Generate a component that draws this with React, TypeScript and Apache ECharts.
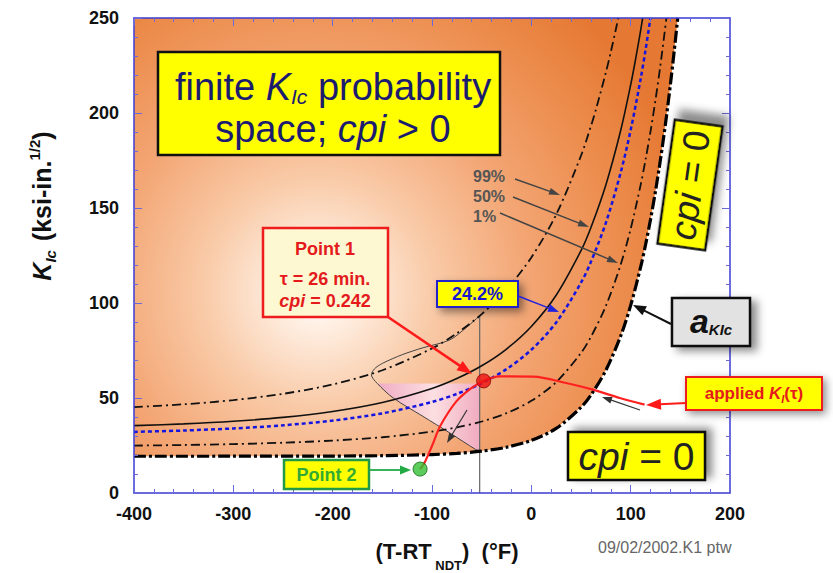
import React, { useEffect, useRef } from 'react';
import * as echarts from 'echarts';

// ---- axis settings ----
const xMin = -400;
const xMax = 200;
const xStep = 100;
const yMin = 0;
const yMax = 250;
const yStep = 50;

// ---- curves: [T-RTndt (F), K (ksi-in^1/2)] ----
const aKIcCurve = [[-400, 19.35], [-300, 19.36], [-200, 19.44], [-150, 19.63], [-100, 20.23], [-75, 20.89], [-50, 22.05], [-25, 24.09], [0, 27.69], [25, 33.99], [50, 45.08], [60, 51.58], [75, 64.55], [90, 82.73], [100, 98.75], [110, 118.82], [115, 130.69], [120, 143.97], [125, 158.84], [130, 175.48], [135, 194.11], [140, 214.94], [144, 233.39], [147.4, 250]];
const p1Curve = [[-400, 24.94], [-350, 25.26], [-300, 25.74], [-250, 26.47], [-200, 27.59], [-150, 29.35], [-100, 32.3], [-75, 34.54], [-50, 37.63], [-25, 42.03], [0, 48.5], [25, 58.32], [50, 73.7], [60, 82.17], [75, 98.41], [90, 120.28], [100, 139.02], [110, 162.03], [115, 175.46], [120, 190.36], [125, 206.93], [130, 225.33], [136, 250]];
const p50Curve = [[-400, 35.46], [-350, 36.38], [-300, 37.75], [-250, 39.81], [-200, 42.92], [-150, 47.65], [-100, 55.02], [-75, 60.23], [-50, 66.95], [-25, 75.78], [0, 87.67], [25, 104.1], [50, 127.56], [60, 139.75], [75, 162.14], [90, 190.94], [100, 214.79], [105, 228.43], [110, 243.33], [112.1, 250]];
const p99Curve = [[-400, 45.21], [-350, 46.69], [-300, 48.89], [-250, 52.19], [-200, 57.14], [-150, 64.62], [-100, 76.09], [-75, 84.05], [-50, 94.14], [-25, 107.08], [0, 123.99], [25, 146.55], [50, 177.51], [60, 193.13], [65, 201.81], [75, 221.23], [80, 232.09], [85, 243.79], [87.5, 250]];
const p242Curve = [[-400, 32.16], [-350, 32.89], [-300, 33.99], [-250, 35.63], [-200, 38.11], [-150, 41.91], [-100, 47.89], [-75, 52.17], [-50, 57.75], [-25, 65.19], [0, 75.38], [25, 89.74], [50, 110.67], [60, 121.68], [75, 142.15], [90, 168.77], [100, 191.02], [110, 217.83], [115, 233.28], [119.9, 250]];
const distOutline = [[-52, 22.3], [-56, 22.9], [-82, 31.6], [-109, 40.3], [-139, 50], [-155, 57.6], [-161, 62.2], [-158, 65.3], [-150, 68.2], [-130, 72.8], [-110, 76.3], [-82, 80.6], [-65, 87.3], [-52, 93.3]];
const pinkRegion = [[-52, 22.3], [-56, 22.9], [-82, 31.6], [-109, 40.3], [-139, 50], [-155, 57.6], [-52, 57.6]];
const verticalLine = [[-52, 0], [-52, 93.5]];
const appliedKI = [[-112, 12.6], [-107, 16.5], [-99, 26], [-92, 35], [-75.5, 48.2], [-60.4, 55.2], [-48, 59], [-32, 61.4], [2, 61.3], [35, 57.9], [62, 54.4], [89, 50], [114, 46.5]];
const point1 = [-48, 59];
const point2 = [-112, 12.6];

const FF = '"Liberation Sans", Arial, Helvetica, sans-serif';
const AX = '#3b3bd6';
const TK = '#6a6ad8';

function arrow(x1: number, y1: number, x2: number, y2: number, color: string, lw: number, hl: number, hw: number) {
  const a = Math.atan2(y2 - y1, x2 - x1);
  const c = Math.cos(a), s = Math.sin(a);
  const bx = x2 - hl * c, by = y2 - hl * s;
  const px = -s * hw / 2, py = c * hw / 2;
  return [
    { type: 'line', z: 100, silent: true, shape: { x1, y1, x2: bx + c * 1, y2: by + s * 1 }, style: { stroke: color, lineWidth: lw } },
    { type: 'polygon', z: 100, silent: true, shape: { points: [[x2, y2], [bx + px, by + py], [bx - px, by - py]] }, style: { fill: color } },
  ];
}

function box(x: number, y: number, w: number, h: number, fill: string, stroke: string, lw: number, sh?: [number, number]) {
  const style: any = { fill, stroke, lineWidth: lw };
  if (sh) {
    style.shadowBlur = 8;
    style.shadowColor = 'rgba(0,0,0,0.45)';
    style.shadowOffsetX = sh[0];
    style.shadowOffsetY = sh[1];
  }
  return { type: 'rect', z: 100, silent: true, shape: { x, y, width: w, height: h }, style };
}

function txt(x: number, y: number, text: string, rich: any, extra: any = {}) {
  return {
    type: 'text', z: 101, silent: true, x, y, ...extra,
    style: { text, rich, align: 'center', verticalAlign: 'middle' },
  };
}

export default function App() {
  const ref = useRef<HTMLDivElement>(null);
  useEffect(() => {
    if (!ref.current) return;
    const chart = echarts.init(ref.current, undefined, { renderer: 'svg' });

    const bgPoly = [[xMin, yMax], ...aKIcCurve];
    const bgGrad = new echarts.graphic.RadialGradient(318, 292, 385, [
      { offset: 0, color: '#ffffff' },
      { offset: 0.08, color: '#fff1e6' },
      { offset: 0.3, color: '#f9caa7' },
      { offset: 0.55, color: '#f3a573' },
      { offset: 0.8, color: '#ec8c4c' },
      { offset: 1, color: '#e57832' },
    ], true);
    const pinkGrad = new echarts.graphic.LinearGradient(0, 0, 1, 0, [
      { offset: 0, color: 'rgba(238,165,200,0.85)' },
      { offset: 0.55, color: 'rgba(253,230,240,0.85)' },
      { offset: 1, color: 'rgba(240,172,205,0.85)' },
    ]);

    const axisCommonX = {
      type: 'value', min: xMin, max: xMax, interval: xStep, z: 5,
      axisLine: { show: true, onZero: false, lineStyle: { color: AX, width: 1.5 } },
      axisTick: { show: true, inside: true, length: 8, lineStyle: { color: TK, width: 1 } },
      minorTick: { show: true, splitNumber: 5, length: 4, lineStyle: { color: TK, width: 1 } },
      splitLine: { show: false }, minorSplitLine: { show: false },
    };
    const axisCommonY = {
      type: 'value', min: yMin, max: yMax, interval: yStep, z: 5,
      axisLine: { show: true, onZero: false, lineStyle: { color: AX, width: 1.5 } },
      axisTick: { show: true, inside: true, length: 8, lineStyle: { color: TK, width: 1 } },
      minorTick: { show: true, splitNumber: 5, length: 4, lineStyle: { color: TK, width: 1 } },
      splitLine: { show: false }, minorSplitLine: { show: false },
    };
    const tickLabel = { fontSize: 18, fontWeight: 'bold', color: '#111', fontFamily: FF };

    const lineSeries = (data: number[][], lineStyle: any, z = 3) => ({
      type: 'line', data, showSymbol: false, symbol: 'none', silent: true, smooth: 0.3, clip: true, z,
      lineStyle,
    });

    const subN = (size: number, color: string, weight = 'normal') => ({ fontSize: size, fontFamily: FF, fill: color, fontWeight: weight });

    const titleRich = {
      n: { ...subN(38, '#1b1b70'), lineHeight: 42 },
      i: { ...subN(38, '#1b1b70'), fontStyle: 'italic', lineHeight: 42 },
      s: { ...subN(21, '#1b1b70'), fontStyle: 'italic', lineHeight: 21, padding: [18, 0, 0, 0] },
    };
    const redRich = {
      n: { ...subN(18, '#e41a1c', 'bold') },
      i: { ...subN(18, '#e41a1c', 'bold'), fontStyle: 'italic' },
    };
    const cpiRich = (size: number) => ({
      n: { ...subN(size, '#222') },
      i: { ...subN(size, '#222'), fontStyle: 'italic' },
    });
    const pctRich = { n: { ...subN(16, '#555', 'bold') } };

    const graphic: any[] = [
      // title
      box(158, 52, 342, 103, '#ffff00', '#111', 2.5),
      txt(333, 108, '{n|finite }{i|K}{s|Ic}{n| probability}\n{n|space; }{i|cpi}{n| > 0}', titleRich),
      // Point 1
      box(263, 228, 125, 89, '#fdf8d2', '#ee1c1c', 2.5),
      txt(325, 249, '{n|Point 1}', redRich),
      txt(325, 279, '{n|τ = 26 min.}', redRich),
      txt(325, 301, '{i|cpi}{n| = 0.242}', redRich),
      ...arrow(388, 317, 472, 374, '#ff1a1a', 2.5, 15, 11),
      // 24.2%
      box(437, 281, 81, 26, '#ffff00', '#2020cc', 2, [4, 4]),
      txt(477.5, 294, '{n|24.2%}', { n: { ...subN(18, '#1a1acc', 'bold') } }),
      ...arrow(518, 296, 559, 312, '#2222dd', 1.5, 11, 8),
      // percent labels
      { type: 'text', z: 101, silent: true, x: 473, y: 176, style: { text: '{n|99%}', rich: pctRich, align: 'left', verticalAlign: 'middle' } },
      { type: 'text', z: 101, silent: true, x: 473, y: 196, style: { text: '{n|50%}', rich: pctRich, align: 'left', verticalAlign: 'middle' } },
      { type: 'text', z: 101, silent: true, x: 473, y: 216, style: { text: '{n|1%}', rich: pctRich, align: 'left', verticalAlign: 'middle' } },
      ...arrow(515, 179, 560, 195, '#444', 1.5, 11, 7),
      ...arrow(513, 197, 589, 227, '#444', 1.5, 11, 7),
      ...arrow(500, 213, 618, 263, '#444', 1.5, 11, 7),
      // rotated cpi = 0
      {
        type: 'group', x: 690, y: 185, rotation: 82 * Math.PI / 180, z: 100,
        children: [
          { type: 'rect', z: 100, silent: true, shape: { x: -62.5, y: -24, width: 125, height: 48 }, style: { fill: '#ffff00', stroke: '#111', lineWidth: 2.5, shadowBlur: 8, shadowColor: 'rgba(0,0,0,0.45)', shadowOffsetX: 10, shadowOffsetY: 4 } },
          { type: 'text', z: 101, silent: true, x: 0, y: 0, style: { text: '{i|cpi}{n| = 0}', rich: cpiRich(37), align: 'center', verticalAlign: 'middle' } },
        ],
      },
      // a_KIc
      box(672, 298, 78, 48, '#e2e2e2', '#111', 2.5, [6, 4]),
      txt(711, 321, '{a|a}{s|KIc}', {
        a: { ...subN(34, '#111', 'bold'), fontStyle: 'italic', lineHeight: 34 },
        s: { ...subN(15, '#111', 'bold'), fontStyle: 'italic', lineHeight: 15, padding: [17, 0, 0, 0] },
      }),
      ...arrow(671, 324, 633, 305, '#111', 2, 13, 10),
      // bottom cpi = 0
      box(568, 432, 137, 48, '#ffff00', '#111', 2.5, [6, -3]),
      txt(636.5, 456, '{i|cpi}{n| = 0}', cpiRich(39)),
      // applied K_I(tau)
      box(686, 377, 136, 33, '#ffff00', '#ee1c1c', 2, [3, 3]),
      txt(754, 393.5, '{n|applied }{i|K}{s|I}{n|(τ)}', {
        n: { ...subN(17, '#e41a1c', 'bold'), lineHeight: 17 },
        i: { ...subN(17, '#e41a1c', 'bold'), fontStyle: 'italic', lineHeight: 17 },
        s: { ...subN(11, '#e41a1c', 'bold'), fontStyle: 'italic', lineHeight: 11, padding: [10, 0, 0, 0] },
      }),
      ...arrow(686, 403, 646, 405, '#ff1a1a', 2, 15, 11),
      ...arrow(640, 410, 602, 397, '#333', 1.2, 10, 7),
      // Point 2
      box(284, 460, 85, 29, '#ffff00', '#229944', 2.5),
      txt(326.5, 475, '{n|Point 2}', { n: { ...subN(18, '#33aa33', 'bold') } }),
      ...arrow(369, 470, 411, 470, '#22aa44', 1.8, 11, 9),
      ...arrow(467, 410, 447, 443, '#333', 1.2, 10, 7),
      // axis names
      txt(42, 206, '{k|K}{s|Ic}{n| (ksi-in.}{p|1/2}{n|)}', {
        k: { ...subN(25, '#111', 'bold'), fontStyle: 'italic', lineHeight: 25 },
        s: { ...subN(15, '#111', 'bold'), fontStyle: 'italic', lineHeight: 15, padding: [16, 2, 0, 0] },
        n: { ...subN(25, '#111', 'bold'), lineHeight: 25 },
        p: { ...subN(15, '#111', 'bold'), lineHeight: 15, padding: [0, 0, 16, 0] },
      }, { rotation: Math.PI / 2 }),
      txt(447, 551, '{n|(T-RT}{s| NDT}{n|)  (°F)}', {
        n: { ...subN(22, '#111', 'bold'), lineHeight: 22 },
        s: { ...subN(13, '#111', 'bold'), lineHeight: 13, padding: [28, 0, 0, 0] },
      }),
      { type: 'text', z: 101, silent: true, x: 598, y: 547, style: { text: '09/02/2002.K1 ptw', fontSize: 16, fontFamily: FF, fill: '#666', align: 'left', verticalAlign: 'middle' } },
    ];

    const option: any = {
      animation: false,
      backgroundColor: '#ffffff',
      grid: { left: 134, right: 103, top: 18, bottom: 80, containLabel: false },
      xAxis: [
        { ...axisCommonX, position: 'bottom', axisLabel: { ...tickLabel, margin: 12 } },
        { ...axisCommonX, position: 'top', axisLabel: { show: false } },
      ],
      yAxis: [
        { ...axisCommonY, position: 'left', axisLabel: { ...tickLabel, margin: 15 } },
        { ...axisCommonY, position: 'right', axisLabel: { show: false } },
      ],
      series: [
        {
          type: 'custom', silent: true, z: 1, clip: true, data: [[xMin, yMax]],
          renderItem: (_p: any, api: any) => ({
            type: 'polygon', shape: { points: bgPoly.map((p) => api.coord(p)) }, style: { fill: bgGrad },
          }),
        },
        {
          type: 'custom', silent: true, z: 2, clip: true, data: [[pinkRegion[0][0], pinkRegion[0][1]]],
          renderItem: (_p: any, api: any) => ({
            type: 'polygon', shape: { points: pinkRegion.map((p) => api.coord(p)) }, style: { fill: pinkGrad },
          }),
        },
        lineSeries(verticalLine, { color: '#666', width: 1.2 }),
        lineSeries(distOutline, { color: '#444', width: 1 }),
        lineSeries(p99Curve, { color: '#111', width: 1.8, type: [9, 4, 2, 4] }),
        lineSeries(p1Curve, { color: '#111', width: 1.8, type: [9, 4, 2, 4] }),
        lineSeries(p50Curve, { color: '#111', width: 1.6 }),
        lineSeries(p242Curve, { color: '#1515e0', width: 2.5, type: [4, 3] }),
        lineSeries(aKIcCurve, { color: '#000', width: 3.2, type: [12, 3, 3, 3] }),
        lineSeries(appliedKI, { color: '#ff2020', width: 2.2 }, 4),
        {
          type: 'scatter', silent: true, z: 6, data: [point1], symbolSize: 14,
          itemStyle: { color: '#ee1010', borderColor: '#880000', borderWidth: 1 },
        },
        {
          type: 'scatter', silent: true, z: 6, data: [point2], symbolSize: 14,
          itemStyle: { color: '#33c033', borderColor: '#116611', borderWidth: 1 },
        },
      ],
      graphic,
    };
    chart.setOption(option);
    return () => chart.dispose();
  }, []);
  return <div ref={ref} style={{ position: 'fixed', left: 0, top: 0, width: 833, height: 573 }} />;
}
